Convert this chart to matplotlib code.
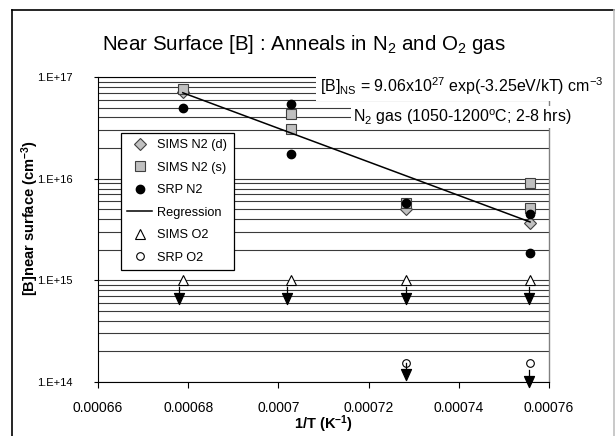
import matplotlib
matplotlib.use("Agg")
import matplotlib.pyplot as plt
from matplotlib.path import Path
from matplotlib.lines import Line2D
from matplotlib.ticker import FixedLocator, LogLocator, NullFormatter

plt.rcParams["font.family"] = ["Liberation Sans", "DejaVu Sans"]
plt.rcParams["mathtext.fontset"] = "custom"
plt.rcParams["mathtext.rm"] = "Liberation Sans"
plt.rcParams["mathtext.it"] = "Liberation Sans:italic"
plt.rcParams["mathtext.bf"] = "Liberation Sans:bold"

# 1/T positions of the anneals (1200, 1150, 1100, 1050 C)
sims_n2_d_x = [0.0006788, 0.0007283, 0.0007558]
sims_n2_d = [7.1e16, 5.0e15, 3.7e15]
sims_n2_s_x = [0.0006788, 0.0007027, 0.0007027, 0.0007283, 0.0007558, 0.0007558]
sims_n2_s = [7.6e16, 4.3e16, 3.1e16, 5.7e15, 9.0e15, 5.2e15]
srp_n2_x = [0.0006788, 0.0007027, 0.0007027, 0.0007283, 0.0007558, 0.0007558]
srp_n2 = [5.0e16, 5.4e16, 1.74e16, 5.8e15, 4.5e15, 1.85e15]
regr_x = [0.0006788, 0.0007558]
regr = [7.0e16, 3.75e15]
sims_o2_x = [0.0006788, 0.0007027, 0.0007283, 0.0007558]
sims_o2 = [1.0e15, 1.0e15, 1.0e15, 1.0e15]
sims_o2_lim_x = [0.000678, 0.000702, 0.0007282, 0.0007556]
sims_o2_lim = [7.5e14, 7.5e14, 7.5e14, 7.5e14]
srp_o2_x = [0.0007283, 0.0007558]
srp_o2 = [1.55e14, 1.55e14]
srp_o2_lim_x = [0.0007282, 0.0007556]
srp_o2_lim = [1.34e14, 1.14e14]

x_ticks = [0.00066, 0.00068, 0.0007, 0.00072, 0.00074, 0.00076]
x_labels = ["0.00066", "0.00068", "0.0007", "0.00072", "0.00074", "0.00076"]
y_ticks = [1e14, 1e15, 1e16, 1e17]
y_labels = ["1.E+14", "1.E+15", "1.E+16", "1.E+17"]

# down arrow marker (upper limit): short stem above, filled head below
arrow = Path(
    [(0, 0.6), (0, 0), (-0.45, 0), (0.45, 0), (0, -1.0), (-0.45, 0)],
    [Path.MOVETO, Path.LINETO, Path.MOVETO, Path.LINETO, Path.LINETO, Path.CLOSEPOLY],
)

W, H = 616, 436
fig = plt.figure(figsize=(W / 100, H / 100), dpi=100)
ax = fig.add_axes([98 / W, 1 - 382 / H, 451 / W, 305 / H])

ax.plot(sims_n2_d_x, sims_n2_d, ls="none", marker="D", ms=6, mfc="#c0c0c0",
        mec="#404040", mew=0.8, label="SIMS N2 (d)", zorder=3)
ax.plot(sims_n2_s_x, sims_n2_s, ls="none", marker="s", ms=6.5, mfc="#c0c0c0",
        mec="#404040", mew=0.8, label="SIMS N2 (s)", zorder=4)
ax.plot(srp_n2_x, srp_n2, ls="none", marker="o", ms=6, mfc="black",
        mec="black", label="SRP N2", zorder=5)
ax.plot(regr_x, regr, color="black", lw=1.1, label="Regression", zorder=6)
ax.plot(sims_o2_x, sims_o2, ls="none", marker="^", ms=7, mfc="white",
        mec="black", mew=0.8, label="SIMS O2", zorder=5)
ax.plot(srp_o2_x, srp_o2, ls="none", marker="o", ms=5.5, mfc="white",
        mec="black", mew=0.8, label="SRP O2", zorder=5)
ax.plot(sims_o2_lim_x, sims_o2_lim, ls="none", marker=arrow, ms=16, mfc="black",
        mec="black", mew=0.9, zorder=5, clip_on=False)
ax.plot(srp_o2_lim_x, srp_o2_lim, ls="none", marker=arrow, ms=16, mfc="black",
        mec="black", mew=0.9, zorder=5, clip_on=False)

ax.set_yscale("log")
ax.set_xlim(0.00066, 0.00076)
ax.set_ylim(1e14, 1e17)
ax.xaxis.set_major_locator(FixedLocator(x_ticks))
ax.set_xticklabels(x_labels, fontsize=10)
ax.yaxis.set_major_locator(FixedLocator(y_ticks))
ax.set_yticklabels(y_labels, fontsize=8)
ax.yaxis.set_minor_locator(LogLocator(base=10, subs=range(2, 10)))
ax.yaxis.set_minor_formatter(NullFormatter())
ax.tick_params(axis="x", direction="out", length=4, width=0.8, pad=10)
ax.tick_params(axis="y", which="major", direction="out", length=3, width=0.8, pad=15)
ax.tick_params(axis="y", which="minor", length=0)
ax.grid(axis="y", which="both", color="#3a3a3a", lw=0.8)
ax.set_axisbelow(True)

for side in ["left", "bottom", "top"]:
    ax.spines[side].set_color("black")
    ax.spines[side].set_linewidth(0.8)
ax.spines["right"].set_color("#808080")
ax.spines["right"].set_linewidth(1.0)

leg = ax.legend(loc="upper left", bbox_to_anchor=((121 - 98) / 451, 1 - (133 - 77) / 305),
                borderaxespad=0, fontsize=9.2, frameon=True, fancybox=False,
                edgecolor="black", framealpha=1, labelspacing=0.82,
                handlelength=1.9, handletextpad=0.45, borderpad=0.5)
leg.get_frame().set_linewidth(0.9)
leg.set_zorder(10)

fig.text(304 / W, 1 - 44 / H, "Near Surface [B] : Anneals in N$_2$ and O$_2$ gas",
         ha="center", va="center", fontsize=14.8)
fig.text(462 / W, 1 - 86 / H,
         r"[B]$_{\mathrm{NS}}$ = 9.06x10$^{27}$ exp(-3.25eV/kT) cm$^{-3}$",
         ha="center", va="center", fontsize=11.5,
         bbox=dict(fc="white", ec="none", pad=3))
fig.text(462 / W, 1 - 117 / H,
         r"N$_2$ gas (1050-1200$^{\mathrm{o}}$C; 2-8 hrs)",
         ha="center", va="center", fontsize=11.5,
         bbox=dict(fc="white", ec="none", pad=1))
fig.text(30 / W, 1 - 218 / H, r"[B]near surface (cm$^{\mathbf{-3}}$)",
         rotation=90, ha="center", va="center", fontsize=10.5, fontweight="bold")
fig.text(323 / W, 1 - 424 / H, r"1/T (K$^{\mathbf{-1}}$)",
         ha="center", va="center", fontsize=10.5, fontweight="bold")

# outer chart frame
fig.add_artist(Line2D([12 / W, 12 / W], [0, 1 - 10 / H], color="black", lw=1.2))
fig.add_artist(Line2D([12 / W, 614 / W], [1 - 10 / H, 1 - 10 / H], color="black", lw=1.2))
fig.add_artist(Line2D([614 / W, 614 / W], [0, 1 - 10 / H], color="#c0c0c0", lw=1.2))

fig.savefig("out.png", dpi=100)
plt.close(fig)
